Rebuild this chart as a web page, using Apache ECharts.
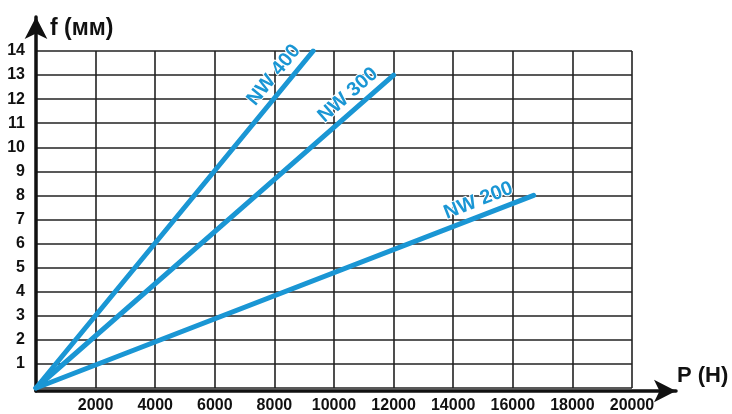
<!DOCTYPE html>
<html>
<head>
<meta charset="utf-8">
<script src="https://cdn.jsdelivr.net/npm/echarts@6/dist/echarts.min.js"></script>
<style>
  html, body { margin: 0; padding: 0; background: #fff; }
  #chart { width: 732px; height: 414px; }
</style>
</head>
<body>
<div id="chart"></div>
<script>
// Deflection f (mm) against load P (N) for three spring sizes
const seriesNames = ['NW 400', 'NW 300', 'NW 200'];
const loadNW400 = [0, 9300];
const deflNW400 = [0, 14];
const loadNW300 = [0, 12000];
const deflNW300 = [0, 13];
const loadNW200 = [0, 16700];
const deflNW200 = [0, 8];

const xTicks = [0, 20000, 2000];   // min, max, step
const yTicks = [0, 14, 1];

const BLUE = '#1a96d4';
const FONT = '"Liberation Sans", Arial, sans-serif';

const pairs = [
  [loadNW400, deflNW400],
  [loadNW300, deflNW300],
  [loadNW200, deflNW200]
];

const chart = echarts.init(document.getElementById('chart'), null, { renderer: 'canvas' });

const tickLabel = { fontFamily: FONT, fontWeight: 'bold', fontSize: 16, color: '#111' };

const option = {
  animation: false,
  backgroundColor: '#fff',
  grid: [
    { left: 36, right: 100, top: 51, bottom: 23 },
    { left: 36, right: 56, top: 17, bottom: 23 }
  ],
  xAxis: [
    {
      type: 'value', gridIndex: 0,
      min: xTicks[0], max: xTicks[1], interval: xTicks[2],
      axisLine: { show: false },
      axisTick: { show: false },
      axisLabel: Object.assign({ margin: 10, formatter: v => v === 0 ? '' : String(v) }, tickLabel),
      splitLine: { show: true, lineStyle: { color: '#222', width: 1.6 } }
    },
    {
      type: 'value', gridIndex: 1, min: 0, max: 1,
      axisLine: { show: true, onZero: false, symbol: ['none', 'arrow'], symbolSize: [17, 22],
        lineStyle: { color: '#111', width: 3.5 } },
      axisTick: { show: false }, axisLabel: { show: false }, splitLine: { show: false },
      name: 'P (Н)', nameLocation: 'end', nameGap: 0,
      nameTextStyle: { fontFamily: FONT, fontWeight: 'bold', fontSize: 22, color: '#111',
        align: 'left', verticalAlign: 'bottom', padding: [0, 0, 4, 1] }
    }
  ],
  yAxis: [
    {
      type: 'value', gridIndex: 0,
      min: yTicks[0], max: yTicks[1], interval: yTicks[2],
      axisLine: { show: false },
      axisTick: { show: false },
      axisLabel: Object.assign({ margin: 11, formatter: v => v === 0 ? '' : String(v) }, tickLabel),
      splitLine: { show: true, lineStyle: { color: '#222', width: 1.6 } }
    },
    {
      type: 'value', gridIndex: 1, min: 0, max: 1,
      axisLine: { show: true, onZero: false, symbol: ['none', 'arrow'], symbolSize: [17, 22],
        lineStyle: { color: '#111', width: 3.5 } },
      axisTick: { show: false }, axisLabel: { show: false }, splitLine: { show: false },
      name: 'f (мм)', nameLocation: 'end', nameGap: 0,
      nameTextStyle: { fontFamily: FONT, fontWeight: 'bold', fontSize: 23, color: '#111',
        align: 'left', verticalAlign: 'top', padding: [0, 0, 0, 14] }
    }
  ],
  series: pairs.map((p, i) => ({
    name: seriesNames[i],
    type: 'line',
    xAxisIndex: 0, yAxisIndex: 0,
    data: p[0].map((x, k) => [x, p[1][k]]),
    symbol: 'none',
    lineStyle: { color: BLUE, width: 5, cap: 'round' },
    z: 5
  }))
};

chart.setOption(option);

// Series names written along each line, slightly above it near its upper end
const along = 0.9;
const lift = 15;
const texts = pairs.map((p, i) => {
  const a = chart.convertToPixel({ gridIndex: 0 }, [p[0][0], p[1][0]]);
  const b = chart.convertToPixel({ gridIndex: 0 }, [p[0][1], p[1][1]]);
  const dx = b[0] - a[0], dy = b[1] - a[1];
  const len = Math.hypot(dx, dy);
  const ux = dx / len, uy = dy / len;
  // normal pointing up-left of the line
  const nx = uy, ny = -ux;
  const cx = a[0] + dx * along + nx * lift;
  const cy = a[1] + dy * along + ny * lift;
  return {
    type: 'text',
    x: cx, y: cy,
    rotation: Math.atan2(-dy, dx),
    z: 10,
    style: {
      text: seriesNames[i],
      fill: BLUE,
      font: 'bold 20px ' + FONT,
      align: 'center', verticalAlign: 'middle',
      stroke: '#fff', lineWidth: 2
    }
  };
});
chart.setOption({ graphic: texts });
</script>
</body>
</html>
